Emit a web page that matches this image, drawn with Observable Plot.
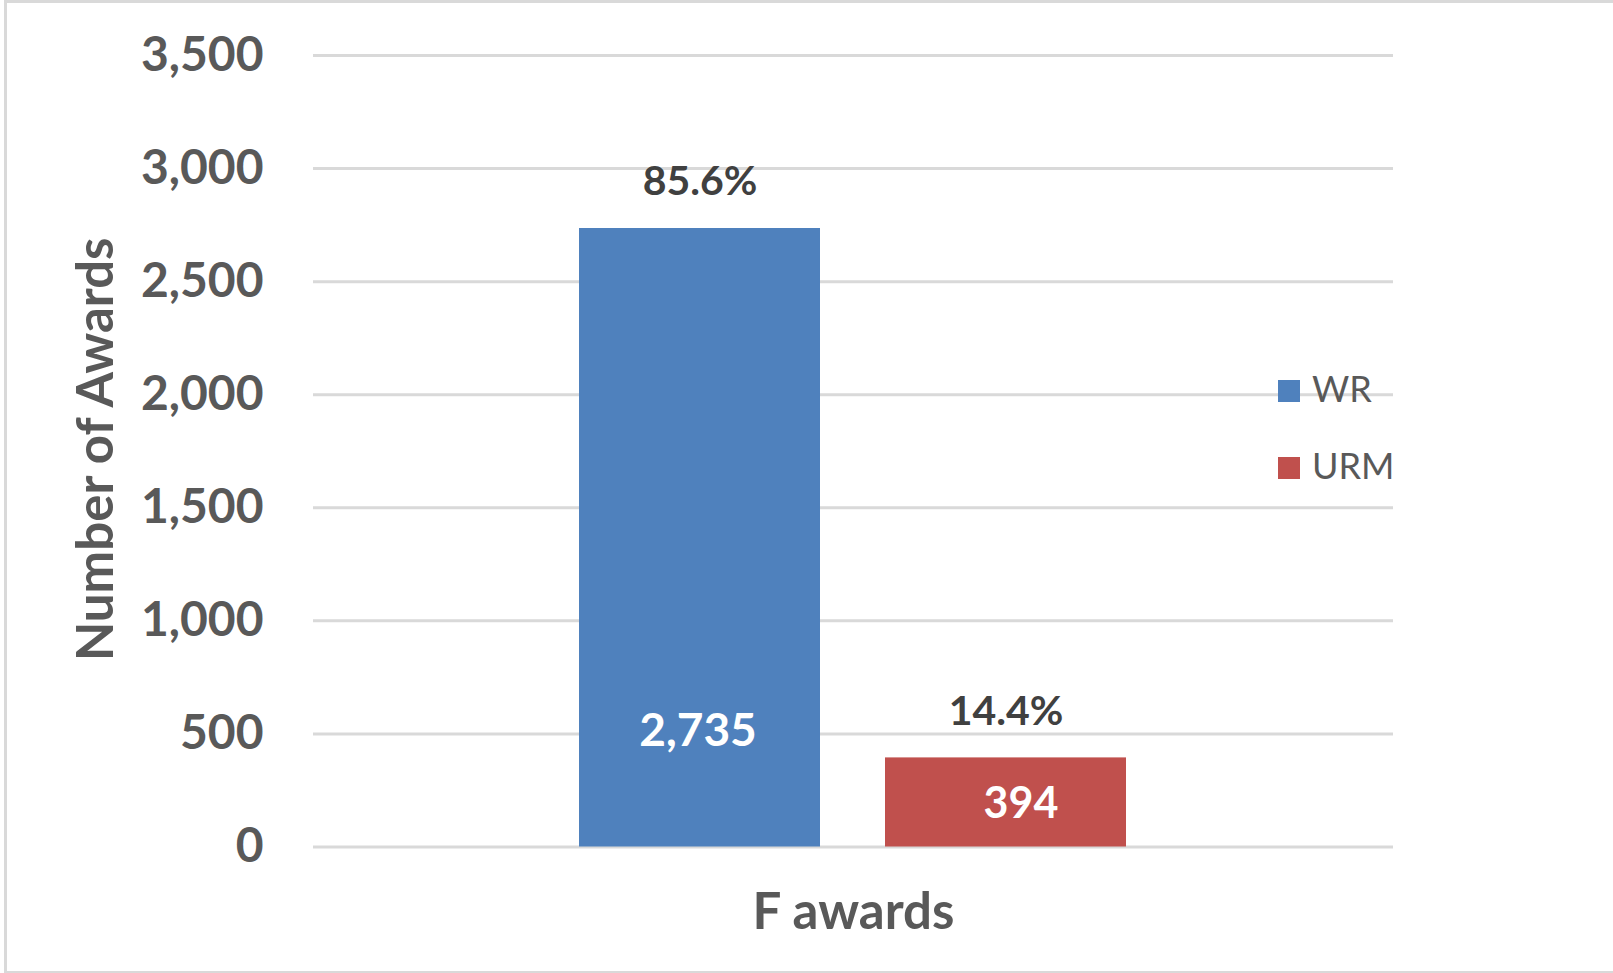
<!DOCTYPE html>
<html>
<head>
<meta charset="utf-8">
<script src="https://cdn.jsdelivr.net/npm/d3@7"></script>
<script src="https://cdn.jsdelivr.net/npm/@observablehq/plot@0.6"></script>
<style>
  html, body { margin: 0; padding: 0; background: #fff; overflow: hidden; }
  #wrap { position: relative; width: 1613px; height: 973px; font-family: Lato, "Open Sans", sans-serif; }
  #border { position: absolute; left: 4px; top: 0; width: 1620px; height: 968px;
            border-top: 3px solid #d9d9d9; border-left: 3px solid #d9d9d9; border-bottom: 3px solid #d9d9d9; box-sizing: content-box; }
  #chart { position: absolute; left: 0; top: 0; }
  .sw { position: absolute; width: 22px; height: 22px; }
  .lt { position: absolute; font-size: 36px; line-height: 36px; color: #595959; white-space: nowrap; }
</style>
</head>
<body>
<div id="wrap">
  <div id="border"></div>
  <div id="chart"></div>
  <div id="legend"></div>
</div>
<script>
// ---- data ----
const categories = ["WR", "URM"];
const counts = [2735, 394];
const shares = ["85.6%", "14.4%"];
const groupLabel = "F awards";
const yTitle = "Number of Awards";
const yTicks = [0, 500, 1000, 1500, 2000, 2500, 3000, 3500];
const colors = ["#4F81BD", "#C0504D"];

const rows = categories.map((c, i) => ({cat: c, value: counts[i], share: shares[i]}));
const fmt = d3.format(",");

const chart = Plot.plot({
  width: 1613,
  height: 973,
  marginTop: 55,
  marginBottom: 126.5,
  marginLeft: 313,
  marginRight: 220,
  style: {background: "transparent", fontFamily: "Lato, 'Open Sans', sans-serif"},
  x: {domain: categories, paddingInner: 0.2117, paddingOuter: 0.865, axis: null},
  y: {domain: [0, 3500], axis: null},
  color: {domain: categories, range: colors},
  marks: [
    Plot.ruleY(yTicks, {stroke: "#d9d9d9", strokeWidth: 3}),
    Plot.axisY(yTicks, {tickSize: 0, tickPadding: 50, tickFormat: fmt, fontSize: 48, fontWeight: "bold", fill: "#595959", label: null}),
    Plot.barY(rows, {x: "cat", y: "value", fill: "cat"}),
    // percentage labels above bars
    Plot.text(rows, {x: "cat", y: "value", text: "share", dy: -46.5, fontSize: 41, fontWeight: "bold", fill: "#404040"}),
    // value labels inside bars
    Plot.text(rows.filter(d => d.cat === "WR"), {x: "cat", y: () => 511, text: d => fmt(d.value), dx: -2, fontSize: 46, fontWeight: "bold", fill: "#ffffff"}),
    Plot.text(rows.filter(d => d.cat === "URM"), {x: "cat", y: d => d.value / 2, text: d => fmt(d.value), dx: 15, dy: 2, fontSize: 43, fontWeight: "bold", fill: "#ffffff"}),
    // x category label
    Plot.text([groupLabel], {frameAnchor: "bottom", text: d => d, dy: 82, fontSize: 51, fontWeight: "bold", fill: "#595959"}),
    // y axis title
    Plot.text([yTitle], {frameAnchor: "left", textAnchor: "middle", text: d => d, rotate: -90, dx: -217, dy: -2, fontSize: 51, fontWeight: "bold", fill: "#595959"})
  ]
});
document.getElementById("chart").appendChild(chart);

// legend
const legend = document.getElementById("legend");
const legendTops = [380, 457];
categories.forEach((c, i) => {
  const sw = document.createElement("div");
  sw.className = "sw";
  sw.style.left = "1278px";
  sw.style.top = legendTops[i] + "px";
  sw.style.background = colors[i];
  legend.appendChild(sw);
  const t = document.createElement("div");
  t.className = "lt";
  t.style.left = "1312px";
  t.style.top = (legendTops[i] - 10) + "px";
  t.textContent = c;
  legend.appendChild(t);
});
</script>
</body>
</html>
